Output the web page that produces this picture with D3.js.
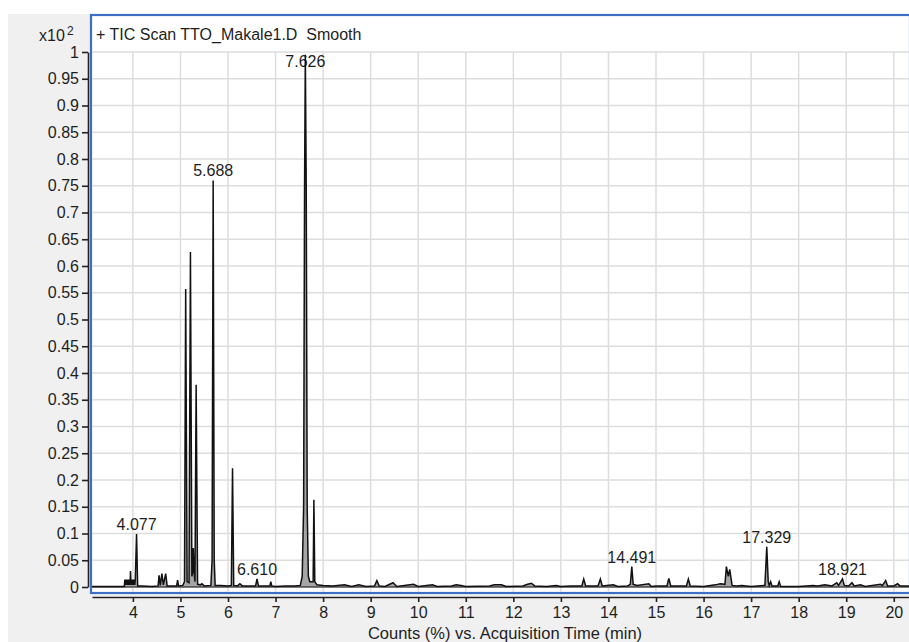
<!DOCTYPE html>
<html>
<head>
<meta charset="utf-8">
<script src="https://cdn.jsdelivr.net/npm/d3@7"></script>
<style>
  body { margin: 0; background: #fff; }
  svg text { font-family: "Liberation Sans", Arial, sans-serif; fill: #1e1e1e; white-space: pre; }
  .tick text { font-size: 16px; }
  .grid line { stroke: #dddddd; stroke-width: 1.5; }
</style>
</head>
<body>
<div id="chart"></div>
<script>
// TIC chromatogram, counts in x10^2 (%), time in min
var rtMin = [3.14, 3.5, 3.8,
  3.82, 3.83, 3.84, 3.85, 3.86, 3.87, 3.88, 3.89, 3.90, 3.91, 3.92, 3.93, 3.94, 3.95, 3.96, 3.97, 3.98, 3.99, 4.00, 4.01, 4.02, 4.03, 4.04, 4.05,
  4.077, 4.10, 4.2, 4.4,
  4.53, 4.55, 4.575, 4.61, 4.64, 4.69, 4.72, 4.85, 4.92, 4.94, 4.96,
  5.05, 5.085, 5.11, 5.14, 5.18, 5.21, 5.24, 5.26, 5.27, 5.285, 5.305, 5.33, 5.36, 5.42, 5.45, 5.5,
  5.64, 5.665, 5.688, 5.71, 5.73, 5.85, 6.0, 6.07, 6.095, 6.12, 6.2, 6.25, 6.3, 6.45,
  6.58, 6.61, 6.64, 6.8, 6.88, 6.90, 6.92, 7.0, 7.2, 7.4,
  7.52, 7.56, 7.59, 7.61, 7.626, 7.645, 7.665, 7.69, 7.72, 7.79, 7.806, 7.825, 7.87,
  8.0, 8.2, 8.45, 8.6, 8.75, 8.9, 9.08, 9.13, 9.18, 9.3, 9.47, 9.55, 9.9, 10.0, 10.3, 10.4,
  10.7, 10.8, 10.9, 11.0, 11.5, 11.6, 11.75, 11.85, 12.2, 12.3, 12.38, 12.45, 12.7, 12.9, 13.0, 13.2,
  13.44, 13.48, 13.52, 13.78, 13.83, 13.87, 14.1, 14.2, 14.4, 14.46, 14.491, 14.52, 14.6, 14.85, 14.9, 15.0,
  15.23, 15.27, 15.31, 15.64, 15.68, 15.72, 16.0, 16.25, 16.35, 16.45, 16.48, 16.52, 16.55, 16.6, 16.7, 16.8, 17.0,
  17.29, 17.329, 17.36, 17.38, 17.41, 17.44, 17.56, 17.59, 17.62, 18.0, 18.3, 18.4, 18.55, 18.7,
  18.8, 18.84, 18.921, 18.96, 19.05, 19.12, 19.17, 19.3, 19.4, 19.72, 19.76, 19.83, 19.87, 20.0, 20.08, 20.13, 20.32];

var countsE2 = [0.001, 0.001, 0.001,
  0.001, 0.014, 0.004, 0.014, 0.004, 0.014, 0.004, 0.014, 0.004, 0.014, 0.004, 0.014, 0.004, 0.03, 0.004, 0.014, 0.004, 0.014, 0.004, 0.014, 0.004, 0.014, 0.004, 0.014,
  0.099, 0.002, 0.002, 0.001,
  0.002, 0.022, 0.003, 0.025, 0.004, 0.025, 0.002, 0.002, 0.002, 0.013, 0.002,
  0.003, 0.01, 0.557, 0.01, 0.008, 0.626, 0.02, 0.03, 0.073, 0.03, 0.01, 0.378, 0.005, 0.004, 0.006, 0.002,
  0.003, 0.05, 0.76, 0.05, 0.003, 0.003, 0.002, 0.003, 0.222, 0.003, 0.002, 0.006, 0.002, 0.002,
  0.002, 0.015, 0.002, 0.002, 0.002, 0.01, 0.002, 0.001, 0.002, 0.002,
  0.003, 0.02, 0.15, 0.75, 0.995, 0.75, 0.15, 0.02, 0.01, 0.01, 0.163, 0.01, 0.004,
  0.003, 0.002, 0.004, 0.001, 0.004, 0.001, 0.002, 0.012, 0.002, 0.001, 0.008, 0.001, 0.005, 0.001, 0.004, 0.001,
  0.002, 0.004, 0.003, 0.001, 0.002, 0.004, 0.004, 0.001, 0.002, 0.005, 0.007, 0.002, 0.001, 0.003, 0.001, 0.002,
  0.002, 0.015, 0.002, 0.002, 0.015, 0.002, 0.004, 0.001, 0.002, 0.005, 0.038, 0.005, 0.003, 0.006, 0.001, 0.002,
  0.002, 0.016, 0.002, 0.002, 0.015, 0.002, 0.001, 0.004, 0.006, 0.005, 0.038, 0.02, 0.033, 0.003, 0.002, 0.003, 0.001,
  0.003, 0.075, 0.01, 0.003, 0.01, 0.002, 0.002, 0.01, 0.001, 0.001, 0.003, 0.002, 0.004, 0.002,
  0.008, 0.003, 0.015, 0.003, 0.002, 0.008, 0.002, 0.004, 0.001, 0.005, 0.003, 0.012, 0.002, 0.002, 0.006, 0.002, 0.002];

var peakLabels = ["4.077", "5.688", "6.610", "7.626", "14.491", "17.329", "18.921"];
var xTicks = [4, 5, 6, 7, 8, 9, 10, 11, 12, 13, 14, 15, 16, 17, 18, 19, 20];
var yTicks = [0, 0.05, 0.1, 0.15, 0.2, 0.25, 0.3, 0.35, 0.4, 0.45, 0.5, 0.55, 0.6, 0.65, 0.7, 0.75, 0.8, 0.85, 0.9, 0.95, 1];

var W = 909, H = 642;
var svg = d3.select('#chart').append('svg').attr('width', W).attr('height', H);

svg.append('rect').attr('x', 8).attr('y', 14).attr('width', W - 8).attr('height', H - 14).attr('fill', '#f0f0f0');
svg.append('rect').attr('x', 91).attr('y', 15).attr('width', W - 90).attr('height', 578)
  .attr('fill', '#fff').attr('stroke', '#3d6fc6').attr('stroke-width', 2.2);

var x = d3.scaleLinear().domain([3.14, 20.32]).range([92, 909]);
var y = d3.scaleLinear().domain([0, 1]).range([587, 52]);

// grid
var grid = svg.append('g').attr('class', 'grid');
grid.selectAll('.v').data(xTicks).enter().append('line')
  .attr('x1', function(d) { return x(d); }).attr('x2', function(d) { return x(d); })
  .attr('y1', y(1)).attr('y2', 592);
grid.selectAll('.h').data(yTicks).enter().append('line')
  .attr('x1', 92).attr('x2', W)
  .attr('y1', function(d) { return y(d); }).attr('y2', function(d) { return y(d); });

// axes
var yAxis = svg.append('g').attr('transform', 'translate(88,0)')
  .call(d3.axisLeft(y).tickValues(yTicks).tickSize(6).tickSizeOuter(0).tickPadding(3)
    .tickFormat(function(d) { return d3.format('~g')(+d.toFixed(2)); }));
var xAxis = svg.append('g').attr('transform', 'translate(0,597)')
  .call(d3.axisBottom(x).tickValues(xTicks).tickSize(5).tickSizeOuter(0).tickPadding(5));
[yAxis, xAxis].forEach(function(a) {
  a.selectAll('path, line').attr('stroke', '#222').attr('stroke-width', 1.6);
  a.selectAll('text').attr('fill', '#1e1e1e');
});

// texts
svg.append('text').attr('x', 96).attr('y', 40).attr('font-size', 16).text('+ TIC Scan TTO_Makale1.D  Smooth');
svg.append('text').attr('x', 39).attr('y', 41).attr('font-size', 16).text('x10');
svg.append('text').attr('x', 67).attr('y', 35).attr('font-size', 12).text('2');
svg.append('text').attr('x', 505).attr('y', 639).attr('font-size', 16.5).attr('text-anchor', 'middle')
  .text('Counts (%) vs. Acquisition Time (min)');

// peak labels
var pts = rtMin.map(function(t, i) { return [t, countsE2[i]]; });
svg.append('g').selectAll('text').data(peakLabels).enter().append('text')
  .attr('font-size', 16).attr('text-anchor', 'middle')
  .attr('x', function(d) { return x(+d); })
  .attr('y', function(d) {
    var near = pts.filter(function(p) { return Math.abs(p[0] - (+d)) < 0.03; });
    var top = d3.max(near, function(p) { return p[1]; });
    return Math.max(y(top) - 4, 67);
  })
  .text(function(d) { return d; });

// trace
var area = d3.area().x(function(p) { return x(p[0]); }).y0(y(0)).y1(function(p) { return y(p[1]); });
var line = d3.line().x(function(p) { return x(p[0]); }).y(function(p) { return y(p[1]); });
svg.append('path').datum(pts).attr('d', area).attr('fill', '#a6a6a6');
svg.append('path').datum(pts).attr('d', line).attr('fill', 'none').attr('stroke', '#111').attr('stroke-width', 1.5);
svg.append('line').attr('x1', 92).attr('x2', W).attr('y1', y(0)).attr('y2', y(0)).attr('stroke', '#111').attr('stroke-width', 1.2);
</script>
</body>
</html>
